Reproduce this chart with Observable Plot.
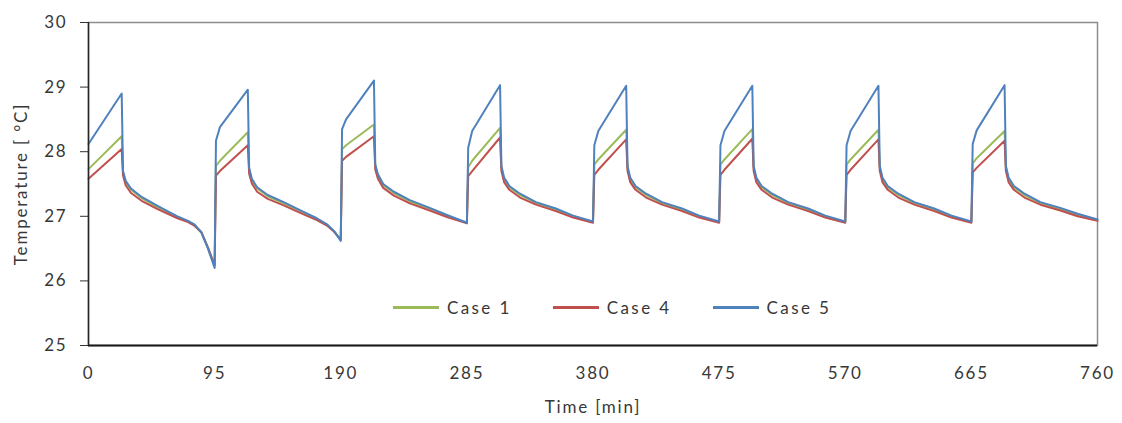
<!DOCTYPE html>
<html>
<head>
<meta charset="utf-8">
<script src="https://cdn.jsdelivr.net/npm/d3@7"></script>
<script src="https://cdn.jsdelivr.net/npm/@observablehq/plot@0.6"></script>
<style>
  html, body { margin: 0; padding: 0; background: #fff; }
  #wrap { position: relative; width: 1122px; height: 423px; overflow: hidden; }
  svg text { letter-spacing: 1.8px; }
  #legend { position: absolute; left: 393px; top: 297px; display: flex; align-items: center;
            font-family: Lato, sans-serif; font-size: 17px; color: #383838; letter-spacing: 2.4px; }
  .item { display: flex; align-items: center; margin-right: 41px; }
  .swatch { width: 46px; height: 3px; margin-right: 8px; }
</style>
</head>
<body>
<div id="wrap"><div id="legend"></div></div>
<script>
// Series names and colours
const seriesNames = ["Case 1", "Case 4", "Case 5"];
const seriesColors = ["#9bbb59", "#c0504d", "#4f81bd"];

// Axis ticks
const xTicks = [0, 95, 190, 285, 380, 475, 570, 665, 760];
const yTicks = [25, 26, 27, 28, 29, 30];

// Time points (min)
const time = [
  0, 25, 26, 28, 32, 40, 52, 67, 75, 80, 85, 90, 95,
  96, 99, 120, 121, 123, 127, 135, 147, 162, 172, 180, 185, 190,
  191, 194, 215, 216, 218, 222, 230, 242, 257, 270, 285,
  286, 289, 310, 311, 313, 317, 325, 337, 352, 365, 380,
  381, 384, 405, 406, 408, 412, 420, 432, 447, 460, 475,
  476, 479, 500, 501, 503, 507, 515, 527, 542, 555, 570,
  571, 574, 595, 596, 598, 602, 610, 622, 637, 650, 665,
  666, 669, 690, 691, 693, 697, 705, 717, 732, 745, 760
];

// Case 1 (green)
const case1 = [
  27.73, 28.24, 27.68, 27.53, 27.41, 27.28, 27.14, 26.99, 26.92, 26.86, 26.76, 26.52, 26.24,
  27.78, 27.86, 28.30, 27.72, 27.56, 27.43, 27.31, 27.20, 27.06, 26.96, 26.86, 26.77, 26.64,
  28.04, 28.10, 28.42, 27.77, 27.63, 27.48, 27.36, 27.23, 27.12, 27.01, 26.90,
  27.76, 27.86, 28.37, 27.75, 27.58, 27.45, 27.33, 27.21, 27.10, 27.00, 26.91,
  27.80, 27.88, 28.34, 27.75, 27.58, 27.45, 27.33, 27.21, 27.10, 27.00, 26.91,
  27.80, 27.88, 28.35, 27.75, 27.58, 27.45, 27.33, 27.21, 27.10, 27.00, 26.91,
  27.80, 27.88, 28.34, 27.75, 27.58, 27.45, 27.33, 27.21, 27.10, 27.00, 26.91,
  27.82, 27.90, 28.32, 27.75, 27.58, 27.45, 27.33, 27.21, 27.11, 27.02, 26.94
];

// Case 4 (red)
const case4 = [
  27.58, 28.04, 27.63, 27.48, 27.36, 27.24, 27.11, 26.97, 26.91, 26.85, 26.75, 26.51, 26.24,
  27.63, 27.70, 28.10, 27.66, 27.51, 27.38, 27.27, 27.17, 27.03, 26.94, 26.85, 26.76, 26.64,
  27.86, 27.92, 28.24, 27.72, 27.58, 27.44, 27.32, 27.20, 27.09, 26.99, 26.89,
  27.62, 27.70, 28.22, 27.70, 27.53, 27.41, 27.29, 27.18, 27.08, 26.98, 26.90,
  27.64, 27.72, 28.19, 27.70, 27.53, 27.41, 27.29, 27.18, 27.08, 26.98, 26.90,
  27.64, 27.72, 28.20, 27.70, 27.53, 27.41, 27.29, 27.18, 27.08, 26.98, 26.90,
  27.64, 27.72, 28.19, 27.70, 27.53, 27.41, 27.29, 27.18, 27.08, 26.98, 26.90,
  27.68, 27.75, 28.17, 27.70, 27.53, 27.41, 27.29, 27.18, 27.09, 27.00, 26.93
];

// Case 5 (blue)
const case5 = [
  28.12, 28.90, 27.70, 27.55, 27.43, 27.30, 27.16, 27.00, 26.93, 26.87, 26.75, 26.50, 26.20,
  28.17, 28.38, 28.96, 27.75, 27.58, 27.45, 27.33, 27.22, 27.07, 26.97, 26.87, 26.77, 26.62,
  28.35, 28.50, 29.10, 27.80, 27.65, 27.50, 27.38, 27.25, 27.13, 27.02, 26.90,
  28.06, 28.32, 29.03, 27.78, 27.60, 27.47, 27.35, 27.22, 27.12, 27.01, 26.92,
  28.10, 28.32, 29.02, 27.78, 27.60, 27.47, 27.35, 27.22, 27.12, 27.01, 26.92,
  28.10, 28.32, 29.02, 27.78, 27.60, 27.47, 27.35, 27.22, 27.12, 27.01, 26.92,
  28.10, 28.32, 29.02, 27.78, 27.60, 27.47, 27.35, 27.22, 27.12, 27.01, 26.92,
  28.12, 28.33, 29.03, 27.78, 27.60, 27.47, 27.35, 27.22, 27.13, 27.04, 26.95
];

const seriesValues = [case1, case4, case5];
const data = [];
seriesNames.forEach((name, i) => {
  time.forEach((t, j) => data.push({series: name, time: t, value: seriesValues[i][j]}));
});

const chart = Plot.plot({
  width: 1122,
  height: 423,
  marginLeft: 88,
  marginRight: 25,
  marginTop: 22,
  marginBottom: 78,
  style: {fontFamily: "Lato, sans-serif", fontSize: "17px", color: "#383838", background: "white"},
  x: {domain: [xTicks[0], xTicks[xTicks.length - 1]]},
  y: {domain: [yTicks[0], yTicks[yTicks.length - 1]]},
  color: {domain: seriesNames, range: seriesColors},
  marks: [
    Plot.frame({stroke: "#8c8c8c", strokeWidth: 1.5}),
    Plot.line(data, {x: "time", y: "value", z: "series", stroke: "series", strokeWidth: 2, strokeLinejoin: "round"}),
    Plot.axisX({ticks: xTicks, tickSize: 0, tickPadding: 21, label: null, tickFormat: d => String(d)}),
    Plot.axisY({ticks: yTicks, tickSize: 8, tickPadding: 13, label: null, stroke: "#333", tickFormat: d => String(d)}),
    Plot.ruleY([yTicks[0]], {stroke: "#1a1a1a", strokeWidth: 2}),
    Plot.ruleX([xTicks[0]], {stroke: "#262626", strokeWidth: 1.5}),
    Plot.text(["Time [min]"], {frameAnchor: "bottom", dy: 67}),
    Plot.text(["Temperature [ °C]"], {frameAnchor: "left", textAnchor: "middle", rotate: -90, dx: -67})
  ]
});
document.getElementById("wrap").prepend(chart);

const legend = document.getElementById("legend");
seriesNames.forEach((name, i) => {
  const item = document.createElement("div");
  item.className = "item";
  const sw = document.createElement("div");
  sw.className = "swatch";
  sw.style.background = seriesColors[i];
  const label = document.createElement("span");
  label.textContent = name;
  item.append(sw, label);
  legend.append(item);
});
</script>
</body>
</html>
